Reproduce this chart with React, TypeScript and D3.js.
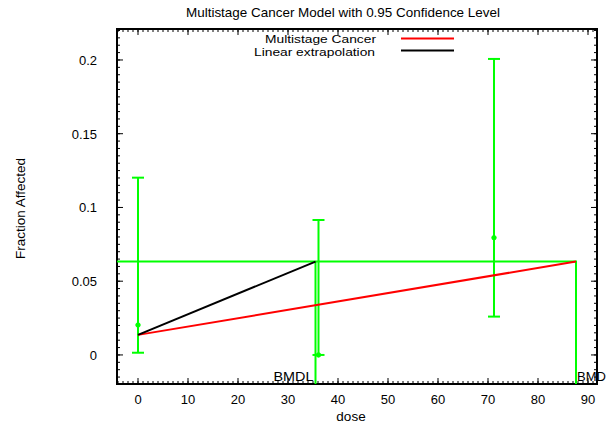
import React from "react";
import * as d3 from "d3";

const doses = [0, 36.1, 71.2];
const fractions = [0.0203, 0.0, 0.0795];
const lowerCI = [0.0015, 0.0, 0.026];
const upperCI = [0.1202, 0.0915, 0.2007];
const modelDoses = [0, 87.6];
const modelValues = [0.0136, 0.0633];
const linearDoses = [0, 35.5];
const linearValues = [0.0136, 0.0633];
const bmd = 87.6;
const bmdl = 35.5;
const bmrLevel = 0.0633;
const xTicks = [0, 10, 20, 30, 40, 50, 60, 70, 80, 90];
const yTicks = [0, 0.05, 0.1, 0.15, 0.2];
const yTickLabels = ["0", "0.05", "0.1", "0.15", "0.2"];

const W = 608, H = 429;
const L = 117, R = 597, T = 29, B = 384;
const FONT = "'Liberation Sans', Arial, sans-serif";
const GREEN = "#00ff00";

export default function App() {
  const x = d3.scaleLinear().domain([-4.2, 91.8]).range([L, R]);
  const y = d3.scaleLinear().domain([-0.0197, 0.221]).range([B, T]);
  const line = d3.line<[number, number]>().x(d => x(d[0])).y(d => y(d[1]));
  const xMinor = d3.range(-4, 92, 1);
  const yMinor = d3.range(-0.015, 0.2205, 0.005);
  return (
    <svg width={W} height={H} style={{ position: "absolute", left: 0, top: 0, background: "#fff" }} fontFamily={FONT}>
      <text x={343} y={17} fontSize={13.5} textAnchor="middle" textLength={314} lengthAdjust="spacingAndGlyphs">Multistage Cancer Model with 0.95 Confidence Level</text>
      {/* minor ticks */}
      {xMinor.map((v, i) => (
        <g key={"xm" + i}>
          <line x1={x(v)} x2={x(v)} y1={B} y2={B - 3} stroke="#000" strokeWidth={1} />
          <line x1={x(v)} x2={x(v)} y1={T} y2={T + 3} stroke="#000" strokeWidth={1} />
        </g>
      ))}
      {yMinor.map((v, i) => (
        <g key={"ym" + i}>
          <line x1={L} x2={L + 3} y1={y(v)} y2={y(v)} stroke="#000" strokeWidth={1} />
          <line x1={R} x2={R - 3} y1={y(v)} y2={y(v)} stroke="#000" strokeWidth={1} />
        </g>
      ))}
      {xTicks.map(v => (
        <g key={"xt" + v}>
          <line x1={x(v)} x2={x(v)} y1={B} y2={B - 6} stroke="#000" strokeWidth={1} />
          <line x1={x(v)} x2={x(v)} y1={T} y2={T + 6} stroke="#000" strokeWidth={1} />
          <text x={x(v)} y={B + 20} fontSize={13} textAnchor="middle">{v}</text>
        </g>
      ))}
      {yTicks.map((v, i) => (
        <g key={"yt" + i}>
          <line x1={L} x2={L + 6} y1={y(v)} y2={y(v)} stroke="#000" strokeWidth={1} />
          <line x1={R} x2={R - 6} y1={y(v)} y2={y(v)} stroke="#000" strokeWidth={1} />
          <text x={97} y={y(v) + 5} fontSize={13} textAnchor="end">{yTickLabels[i]}</text>
        </g>
      ))}
      <rect x={L} y={T} width={R - L} height={B - T} fill="none" stroke="#000" strokeWidth={2} />
      <text x={351} y={421} fontSize={13.5} textAnchor="middle">dose</text>
      <text transform={`translate(25,${(T + B) / 2 + 2}) rotate(-90)`} fontSize={13.5} textAnchor="middle">Fraction Affected</text>
      {/* legend */}
      <text x={376} y={43} fontSize={11.5} textAnchor="end" textLength={111} lengthAdjust="spacingAndGlyphs">Multistage Cancer</text>
      <line x1={401} x2={454} y1={38.5} y2={38.5} stroke="#ff0000" strokeWidth={2} />
      <text x={375} y={56} fontSize={11.5} textAnchor="end" textLength={121} lengthAdjust="spacingAndGlyphs">Linear extrapolation</text>
      <line x1={401} x2={454} y1={50.5} y2={50.5} stroke="#000" strokeWidth={2} />
      {/* BMR lines */}
      <path d={line([[-4.2, bmrLevel], [bmd, bmrLevel], [bmd, -0.0197]]) || ""} fill="none" stroke={GREEN} strokeWidth={2} />
      <line x1={x(bmdl)} x2={x(bmdl)} y1={y(bmrLevel)} y2={B} stroke={GREEN} strokeWidth={2} />
      {/* error bars */}
      {doses.map((d, i) => (
        <g key={"eb" + i}>
          <line x1={x(d)} x2={x(d)} y1={y(lowerCI[i])} y2={y(upperCI[i])} stroke={GREEN} strokeWidth={2} />
          <line x1={x(d) - 6} x2={x(d) + 6} y1={y(lowerCI[i])} y2={y(lowerCI[i])} stroke={GREEN} strokeWidth={2} />
          <line x1={x(d) - 6} x2={x(d) + 6} y1={y(upperCI[i])} y2={y(upperCI[i])} stroke={GREEN} strokeWidth={2} />
          <circle cx={x(d)} cy={y(fractions[i])} r={2.2} fill={GREEN} stroke={GREEN} strokeWidth={1} />
        </g>
      ))}
      <path d={line(modelDoses.map((d, i) => [d, modelValues[i]] as [number, number])) || ""} fill="none" stroke="#ff0000" strokeWidth={2} />
      <path d={line(linearDoses.map((d, i) => [d, linearValues[i]] as [number, number])) || ""} fill="none" stroke="#000" strokeWidth={2} />
      <text x={x(bmdl) - 2} y={B - 3} fontSize={13} textAnchor="end" textLength={40} lengthAdjust="spacingAndGlyphs">BMDL</text>
      <text x={x(bmd) + 1} y={B - 3} fontSize={13} textAnchor="start">BMD</text>
    </svg>
  );
}
